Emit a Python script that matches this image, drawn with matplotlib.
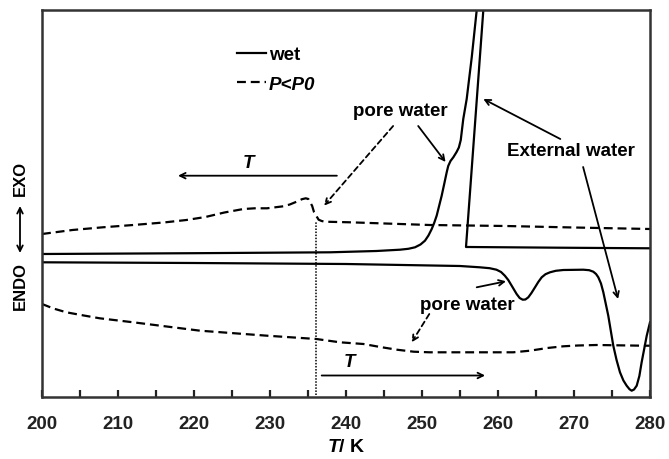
import matplotlib
matplotlib.use("Agg")
import matplotlib.pyplot as plt
from matplotlib.lines import Line2D

plt.rcParams['font.family'] = ['Liberation Sans', 'DejaVu Sans']
plt.rcParams['font.weight'] = 'bold'
plt.rcParams['mathtext.fontset'] = 'custom'
plt.rcParams['mathtext.it'] = 'Liberation Sans:italic:bold'
plt.rcParams['mathtext.rm'] = 'Liberation Sans:bold'

# wet sample, cooling run (traced from 280 K downwards, exotherm runs off the top)
wet_cool_T = [280, 268, 256.1, 255.79, 258.07, 258.39, 257.69, 257.2, 256.55, 255.88,
              255.43, 255.1, 254.85, 254.55, 254.12, 253.75, 253.45, 253.25, 252.95,
              252.59, 251.93, 251.6, 251.28, 250.85, 250.39, 249.8, 249.08, 248.2,
              247.1, 244, 237.9, 220, 200]
wet_cool_q = [14.87, 14.93, 15.0, 15.0, 38.7, 42.0, 42.0, 38.7, 34.0, 29.8,
              27.8, 25.7, 24.95, 24.5, 23.97, 23.6, 23.1, 22.47, 21.4,
              20.13, 18.13, 17.4, 16.8, 16.15, 15.63, 15.25, 14.97, 14.82,
              14.73, 14.6, 14.47, 14.38, 14.3]

# wet sample, heating run
wet_heat_T = [200, 220, 240, 255, 257.6, 258.9, 259.8, 260.4, 260.9, 261.35, 261.8,
              262.45, 262.85, 263.25, 263.6, 263.99, 264.4, 264.87, 265.3, 265.75,
              266.25, 266.84, 267.6, 268.59, 271.22, 272.0, 272.54, 272.9, 273.2,
              273.55, 273.86, 274.51, 275.17, 275.6, 276.05, 276.5, 276.93, 277.3,
              277.59, 277.9, 278.25, 278.6, 278.9, 279.57, 280]
wet_heat_q = [13.47, 13.4, 13.3, 13.1, 12.97, 12.88, 12.73, 12.5, 12.13, 11.7, 11.13,
              10.3, 9.9, 9.73, 9.75, 9.97, 10.4, 10.97, 11.5, 11.97,
              12.28, 12.47, 12.62, 12.7, 12.73, 12.68, 12.53, 12.3, 11.97,
              11.35, 10.47, 8.13, 5.13, 3.7, 2.47, 1.65, 1.13, 0.78,
              0.63, 0.75, 1.13, 2.1, 3.47, 6.13, 7.47]

# P<P0 sample, cooling run
dry_cool_T = [200, 204, 208, 212, 216, 219, 221.5, 224, 226.5, 228, 229.6, 231.75,
              232.6, 233.5, 234.2, 234.7, 235.05, 235.3, 235.55, 235.8, 236.1, 236.4,
              236.8, 237.2, 240.5, 251, 261, 270, 280]
dry_cool_q = [16.3, 16.7, 16.97, 17.2, 17.45, 17.7, 18.0, 18.45, 18.8, 18.87, 18.87, 19.07,
              19.25, 19.53, 19.78, 19.87, 19.8, 19.47, 19.1, 18.47, 18.1, 17.73,
              17.6, 17.53, 17.47, 17.2, 17.1, 16.95, 16.8]

# P<P0 sample, heating run
dry_heat_T = [200, 201.5, 203.2, 205.5, 207.6, 212, 220.8, 229.6, 236.1, 239.2, 242.3,
              244.5, 246.7, 248.9, 251, 255.4, 262, 264.2, 266.5, 268.6, 270.5, 273,
              279.1, 280]
dry_heat_q = [9.3, 8.85, 8.47, 8.15, 7.87, 7.47, 6.63, 6.13, 5.8, 5.47, 5.3,
              5.0, 4.73, 4.53, 4.47, 4.47, 4.47, 4.63, 4.9, 5.07, 5.15, 5.2,
              5.13, 5.13]

T_onset = 236.1

fig = plt.figure(figsize=(6.69, 4.6), dpi=100)
ax = fig.add_axes([42 / 669, 1 - 398 / 460, 608 / 669, 387 / 460])

lw = 1.6
dash = (0, (4, 2.2))
ax.plot(wet_cool_T, wet_cool_q, color='black', lw=lw, solid_joinstyle='round')
ax.plot(wet_heat_T, wet_heat_q, color='black', lw=lw, solid_joinstyle='round')
ax.plot(dry_cool_T, dry_cool_q, color='black', lw=lw, linestyle=dash,
        dash_joinstyle='round')
ax.plot(dry_heat_T, dry_heat_q, color='black', lw=lw, linestyle=dash,
        dash_joinstyle='round')
ax.vlines(T_onset, 0.2, 17.5, colors='black', linestyles=(0, (1, 1)), lw=1.1)

ax.set_xlim(200, 280)
ax.set_ylim(0, 38.7)
ax.set_xticks(range(200, 281, 10))
ax.set_xticks(range(205, 280, 10), minor=True)
ax.set_yticks([])
ax.tick_params(axis='x', which='both', direction='in', length=5, width=1.6,
               labelsize=13.5, pad=13, colors='#222222')
for sp in ax.spines.values():
    sp.set_linewidth(1.8)
    sp.set_color('#333333')
ax.set_xlabel('$T$/ K', fontsize=14, fontweight='bold', labelpad=4)

handles = [Line2D([], [], color='black', lw=lw),
           Line2D([], [], color='black', lw=lw, linestyle=dash)]
leg = ax.legend(handles, ['wet', 'P<P0'], loc='upper left', frameon=False,
                bbox_to_anchor=((237 - 42) / 608, (398 - 47) / 387),
                borderpad=0, borderaxespad=0, handlelength=1.55, handletextpad=0.15,
                labelspacing=0.66, prop={'size': 13.5, 'weight': 'bold'})
leg.get_texts()[1].set_style('italic')

fs = 13.5
arrow = dict(arrowstyle='->', color='black', lw=1.3, shrinkA=0, shrinkB=0)
darrow = dict(arrow, linestyle=(0, (3, 2)))

# direction of temperature scan
ax.annotate('', xy=(217.9, 22.13), xytext=(238.8, 22.13), arrowprops=arrow)
ax.text(227.1, 23.5, 'T', fontsize=fs, style='italic', ha='center', va='center')
ax.annotate('', xy=(258.3, 2.15), xytext=(236.8, 2.15), arrowprops=arrow)
ax.text(240.5, 3.5, 'T', fontsize=fs, style='italic', ha='center', va='center')

# upper labels
ax.text(247.1, 28.6, 'pore water', fontsize=fs, ha='center', va='center')
ax.annotate('', xy=(237.1, 19.13), xytext=(246.2, 27.1), arrowprops=darrow)
ax.annotate('', xy=(253.1, 23.5), xytext=(249.5, 27.1), arrowprops=arrow)
ax.text(269.6, 24.6, 'External water', fontsize=fs, ha='center', va='center')
ax.annotate('', xy=(258.07, 29.8), xytext=(268.2, 25.8), arrowprops=arrow)
ax.annotate('', xy=(275.8, 9.8), xytext=(271.2, 23.0), arrowprops=arrow)

# lower labels
ax.text(256.0, 9.3, 'pore water', fontsize=fs, ha='center', va='center')
ax.annotate('', xy=(261.05, 11.57), xytext=(257.2, 10.97), arrowprops=arrow)
ax.annotate('', xy=(248.64, 5.47), xytext=(250.96, 8.3), arrowprops=darrow)

# EXO / ENDO axis label
fig.text(20 / 669, 1 - 178.5 / 460, 'EXO', rotation=90, fontsize=12,
         ha='center', va='center')
fig.text(20 / 669, 1 - 286.5 / 460, 'ENDO', rotation=90, fontsize=12,
         ha='center', va='center')
ax.annotate('', xy=(20, 460 - 207), xytext=(20, 460 - 254), xycoords='figure pixels',
            textcoords='figure pixels',
            arrowprops=dict(arrowstyle='<->', color='black', lw=1.3, shrinkA=0, shrinkB=0))

fig.savefig('out.png', dpi=100)
